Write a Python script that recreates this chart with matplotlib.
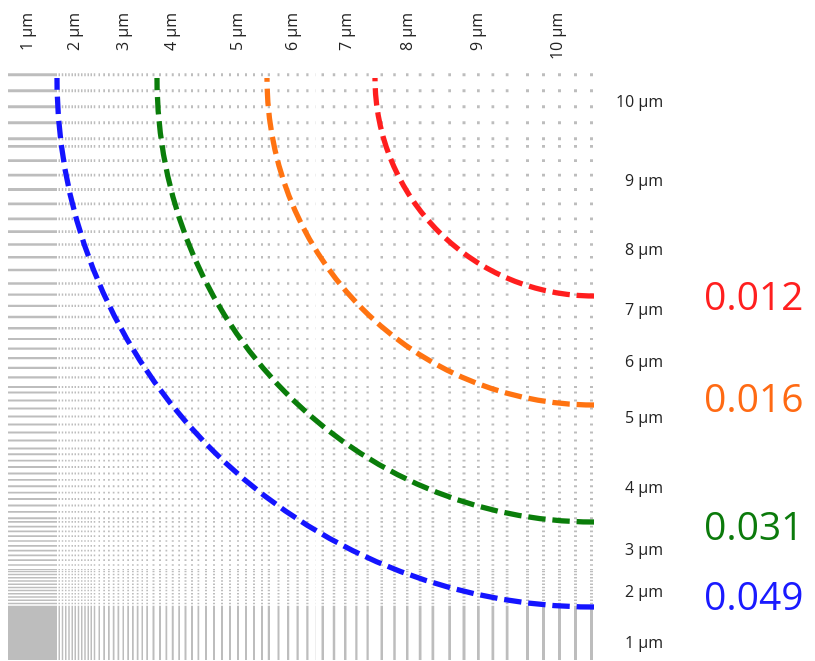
import numpy as np
import matplotlib
matplotlib.use("Agg")
import matplotlib.pyplot as plt
from matplotlib.patches import Arc

# ---------------- data ----------------
line_widths_um = [1, 2, 3, 4, 5, 6, 7, 8, 9, 10]
col_labels = ["1 µm", "2 µm", "3 µm", "4 µm", "5 µm", "6 µm", "7 µm", "8 µm", "9 µm", "10 µm"]
row_labels = ["1 µm", "2 µm", "3 µm", "4 µm", "5 µm", "6 µm", "7 µm", "8 µm", "9 µm", "10 µm"]
contour_values = ["0.049", "0.031", "0.016", "0.012"]
# iso-contour semi-axes (horizontal / vertical)
contour_rx = [537, 437, 327, 219]
contour_ry = [529, 444, 327, 218]

# ---------------- layout / style ----------------
W, H = 815, 661
col_edges = [8, 57, 96, 143, 201, 263, 316, 374, 441, 518, 595]
row_edges = [660, 607, 570, 520, 452, 390, 336, 280, 215, 142, 70]
pitch_per_um = 1.6
line_px = [1.6, 1.5, 1.7, 1.9, 2.0, 2.2, 2.4, 2.6, 2.8, 3.0]
darkness = 0.26
ss = 4
contour_center = (594, 78)
curve_colors = ["#1414ff", "#0a7d0a", "#ff7311", "#ff1e1e"]
label_colors = ["#1a1aff", "#0b7a0b", "#ff6a13", "#ff1f1f"]
value_label_x = 704
value_label_baseline = [610, 540, 412, 310]
top_label_baseline_x = [33, 80, 129, 177, 243, 298, 352, 413, 483, 563]
top_label_y = 12
right_label_x = 663
right_label_baseline = [648, 597, 555, 493, 423, 367, 315, 255, 186, 107]

plt.rcParams["font.family"] = ["Open Sans", "DejaVu Sans"]

fig = plt.figure(figsize=(W / 100, H / 100), dpi=100)
ax = fig.add_axes([0, 0, 1, 1])
ax.set_axis_off()

# --- line-pair test pattern: vertical lines x horizontal lines ---
nx = (col_edges[-1] - col_edges[0]) * ss
xs = col_edges[0] + (np.arange(nx) + 0.5) / ss
V = np.zeros(nx)
for i, w in enumerate(line_widths_um):
    e0, e1 = col_edges[i], col_edges[i + 1]
    m = (xs >= e0) & (xs < e1)
    p = pitch_per_um * w
    V[m] = (((xs[m] - e0 - 0.5 * p) % p) < line_px[i]).astype(float)

ny = (row_edges[0] - row_edges[-1]) * ss
ys = row_edges[-1] + (np.arange(ny) + 0.5) / ss
Hh = np.zeros(ny)
for i, w in enumerate(line_widths_um):
    bot, top = row_edges[i], row_edges[i + 1]
    m = (ys >= top) & (ys < bot)
    p = pitch_per_um * w
    Hh[m] = (((ys[m] - top - 0.2 * p) % p) < line_px[i]).astype(float)

img = 1.0 - darkness * np.outer(Hh, V)
img = img.reshape(ny // ss, ss, nx // ss, ss).mean(axis=(1, 3))
ax.imshow(img, cmap="gray", vmin=0, vmax=1, interpolation="nearest",
          extent=(col_edges[0], col_edges[-1], row_edges[0], row_edges[-1]),
          origin="upper", aspect="auto")

# --- iso-contours ---
for rx, ry, c in zip(contour_rx, contour_ry, curve_colors):
    arc = Arc(contour_center, 2 * rx, 2 * ry, theta1=90, theta2=180,
              color=c, lw=3.8, linestyle=(0, (3.3, 1.3)), capstyle="butt")
    ax.add_patch(arc)

# --- labels ---
for lab, x in zip(col_labels, top_label_baseline_x):
    ax.text(x, top_label_y, lab, rotation=90, rotation_mode="anchor",
            ha="right", va="baseline", fontsize=11.5, color="#222222")
for lab, y in zip(row_labels, right_label_baseline):
    ax.text(right_label_x, y, lab, ha="right", va="baseline",
            fontsize=11.5, color="#222222")
for val, y, c in zip(contour_values, value_label_baseline, label_colors):
    ax.text(value_label_x, y, val, ha="left", va="baseline",
            fontsize=28, color=c)

ax.set_xlim(0, W)
ax.set_ylim(H, 0)
fig.savefig("out.png", dpi=100)
